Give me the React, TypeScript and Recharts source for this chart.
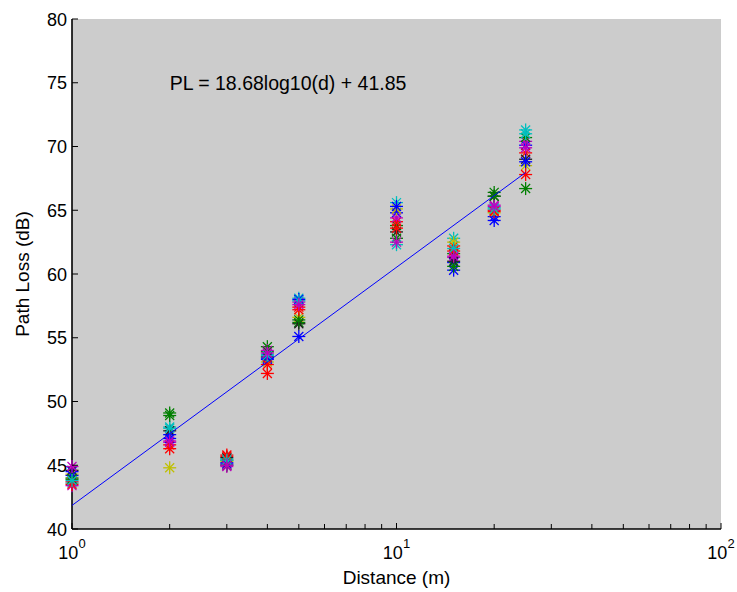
import React from 'react';
import { ScatterChart, Scatter, XAxis, YAxis, CartesianGrid, ReferenceDot, Label } from 'recharts';

const distances = [1, 2, 3, 4, 5, 10, 15, 20, 25];

const run01 = [44.5, 47.4, 45.2, 53.3, 55.1, 64.8, 60.9, 64.5, 70.1];
const run02 = [44.0, 49.1, 45.4, 54.3, 56.2, 63.8, 61.6, 66.4, 66.7];
const run03 = [43.7, 46.3, 45.8, 52.2, 57.4, 64.1, 62.2, 65.0, 69.5];
const run04 = [43.6, 48.0, 45.5, 53.7, 58.1, 65.6, 62.8, 65.2, 71.3];
const run05 = [43.4, 46.8, 44.9, 54.0, 57.8, 64.4, 61.3, 65.4, 70.4];
const run06 = [44.3, 44.8, 45.3, 53.1, 56.6, 65.1, 62.5, 64.8, 68.5];
const run07 = [44.6, 47.7, 45.6, 53.5, 56.1, 63.3, 61.0, 66.1, 69.0];
const run08 = [44.2, 47.1, 45.1, 53.4, 58.0, 65.3, 60.3, 64.2, 68.8];
const run09 = [43.9, 48.9, 45.0, 53.9, 56.4, 62.8, 60.6, 66.1, 70.7];
const run10 = [43.5, 46.6, 45.7, 52.9, 57.2, 63.6, 61.8, 64.9, 67.8];
const run11 = [43.8, 47.9, 45.4, 53.6, 57.9, 62.3, 62.0, 65.1, 71.0];
const run12 = [44.9, 46.9, 45.0, 53.8, 57.6, 62.5, 61.4, 65.3, 69.9];

const runs = [run01, run02, run03, run04, run05, run06, run07, run08, run09, run10, run11, run12];
const runColors = ['#0000ff', '#007f00', '#ff0000', '#00bfbf', '#bf00bf', '#bfbf00', '#202020', '#0000ff', '#007f00', '#ff0000', '#00bfbf', '#bf00bf'];

const fitD = [1, 25];
const fitPL = [41.85, 67.96];
const fitLabel = 'PL = 18.68log10(d) + 41.85';

const xTicks = [1, 2, 3, 4, 5, 6, 7, 8, 9, 10, 20, 30, 40, 50, 60, 70, 80, 90, 100];
const xMajor = [1, 10, 100];
const xMajorExp = ['0', '1', '2'];
const yTicks = [40, 45, 50, 55, 60, 65, 70, 75, 80];

const FONT = '"Liberation Sans", Arial, Helvetica, sans-serif';

const Star = ({ cx, cy, color }: any) => {
  if (cx == null || cy == null) return <g />;
  const s = 6.5;
  const t = 4.5;
  return (
    <g stroke={color} strokeWidth={1.3} fill="none">
      <line x1={cx - s} y1={cy} x2={cx + s} y2={cy} />
      <line x1={cx} y1={cy - s} x2={cx} y2={cy + s} />
      <line x1={cx - t} y1={cy - t} x2={cx + t} y2={cy + t} />
      <line x1={cx - t} y1={cy + t} x2={cx + t} y2={cy - t} />
    </g>
  );
};

const BottomTick = (props: any) => {
  const { x, y, payload } = props;
  const idx = xMajor.indexOf(payload.value);
  const len = idx >= 0 ? 6 : 5;
  return (
    <g>
      <line x1={x} y1={y} x2={x} y2={y - len} stroke="#000" strokeWidth={1} />
      {idx >= 0 && (
        <text x={x} y={y + 30} textAnchor="middle" fontFamily={FONT} fontSize={18} fill="#000">
          <tspan>10</tspan>
          <tspan dy={-11} fontSize={13}>{xMajorExp[idx]}</tspan>
        </text>
      )}
    </g>
  );
};

const TopTick = (props: any) => {
  const { x, y, payload } = props;
  const len = xMajor.indexOf(payload.value) >= 0 ? 6 : 5;
  return <line x1={x} y1={y} x2={x} y2={y + len} stroke="#000" strokeWidth={1} />;
};

const LeftTick = (props: any) => {
  const { x, y, payload } = props;
  return (
    <g>
      <line x1={x} y1={y} x2={x + 6} y2={y} stroke="#000" strokeWidth={1} />
      <text x={x - 5} y={y + 6.5} textAnchor="end" fontFamily={FONT} fontSize={18} fill="#000">
        {payload.value}
      </text>
    </g>
  );
};

const RightTick = (props: any) => {
  const { x, y } = props;
  return <line x1={x} y1={y} x2={x - 6} y2={y} stroke="#000" strokeWidth={1} />;
};

export default function App() {
  const fitData = fitD.map((d, i) => ({ d, pl: fitPL[i] }));
  const axisLine = { stroke: '#000', strokeWidth: 1.6 };
  return (
    <div style={{ position: 'absolute', left: 0, top: 0, width: 737, height: 592, background: '#fff' }}>
      <ScatterChart width={737} height={592} margin={{ top: 19, right: 16, bottom: 23, left: 12 }}>
        <CartesianGrid fill="#cccccc" fillOpacity={1} stroke="none" horizontal={false} vertical={false} />
        <XAxis
          xAxisId="b"
          dataKey="d"
          type="number"
          scale="log"
          domain={[1, 100]}
          ticks={xTicks}
          interval={0}
          tickSize={0}
          tickMargin={0}
          tickLine={false}
          axisLine={axisLine}
          tick={<BottomTick />}
          height={40}
          orientation="bottom"
        >
          <Label
            content={(p: any) => {
              const vb = p.viewBox || {};
              return (
                <text x={vb.x + vb.width / 2} y={vb.y + 55} textAnchor="middle" fontFamily={FONT} fontSize={19} fill="#000">
                  Distance (m)
                </text>
              );
            }}
          />
        </XAxis>
        <XAxis
          xAxisId="t"
          dataKey="d"
          type="number"
          scale="log"
          domain={[1, 100]}
          ticks={xTicks}
          interval={0}
          tickSize={0}
          tickMargin={0}
          tickLine={false}
          axisLine={axisLine}
          tick={<TopTick />}
          height={0}
          orientation="top"
        />
        <YAxis
          yAxisId="l"
          dataKey="pl"
          type="number"
          domain={[40, 80]}
          ticks={yTicks}
          interval={0}
          tickSize={0}
          tickMargin={0}
          tickLine={false}
          axisLine={axisLine}
          tick={<LeftTick />}
          width={60}
          orientation="left"
        >
          <Label
            content={(p: any) => {
              const vb = p.viewBox || {};
              const cx = vb.x + 10;
              const cy = vb.y + vb.height / 2;
              return (
                <text x={cx} y={cy} transform={`rotate(-90 ${cx} ${cy})`} textAnchor="middle" dominantBaseline="central" fontFamily={FONT} fontSize={19} fill="#000">
                  Path Loss (dB)
                </text>
              );
            }}
          />
        </YAxis>
        <YAxis
          yAxisId="r"
          dataKey="pl"
          type="number"
          domain={[40, 80]}
          ticks={yTicks}
          interval={0}
          tickSize={0}
          tickMargin={0}
          tickLine={false}
          axisLine={axisLine}
          tick={<RightTick />}
          width={0}
          orientation="right"
        />
        {runs.map((r, i) => (
          <Scatter
            key={i}
            xAxisId="b"
            yAxisId="l"
            data={distances.map((d, j) => ({ d, pl: r[j] }))}
            isAnimationActive={false}
            shape={(p: any) => <Star cx={p.cx} cy={p.cy} color={runColors[i]} />}
          />
        ))}
        <Scatter
          xAxisId="b"
          yAxisId="l"
          data={fitData}
          isAnimationActive={false}
          line={{ stroke: '#0000ff', strokeWidth: 1 }}
          shape={() => <g />}
        />
        <ReferenceDot
          xAxisId="b"
          yAxisId="l"
          x={2}
          y={75}
          r={0}
          fill="none"
          stroke="none"
          label={(p: any) => {
            const vb = p.viewBox || {};
            return (
              <text x={vb.x} y={vb.y + 7} textAnchor="start" fontFamily={FONT} fontSize={19.5} fill="#000">
                {fitLabel}
              </text>
            );
          }}
        />
      </ScatterChart>
    </div>
  );
}
